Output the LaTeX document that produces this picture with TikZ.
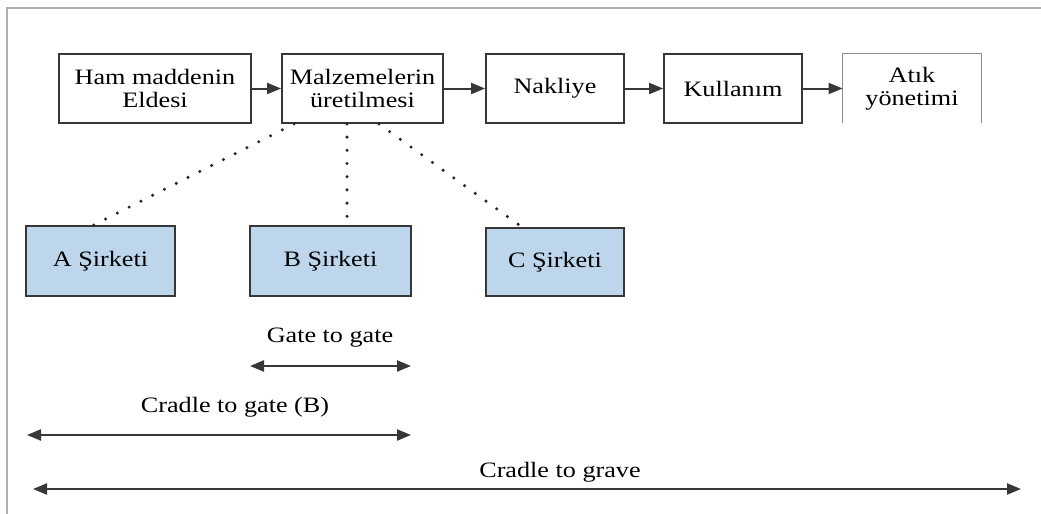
\documentclass[tikz,border=0pt]{standalone}
\usepackage{fontspec}
\setmainfont{Liberation Serif}[FakeStretch=1.19]
\usetikzlibrary{arrows.meta,calc}
\definecolor{boxblue}{RGB}{190,214,236}
\definecolor{linegray}{RGB}{55,55,55}
\definecolor{framegray}{RGB}{175,175,175}
\begin{document}
\begin{tikzpicture}[x=0.5pt,y=-0.5pt,
  every node/.style={font=\fontsize{11pt}{11.5pt}\selectfont, align=center, inner sep=0pt},
  stagebox/.style={draw=linegray, line width=0.9pt, minimum height=34.5pt},
  firmbox/.style={stagebox, fill=boxblue, minimum height=35pt},
  flow/.style={-{Triangle[length=7pt,width=5.5pt]}, draw=linegray, line width=1pt},
  span/.style={{Triangle[length=7pt,width=5.5pt]}-{Triangle[length=7pt,width=5.5pt]}, draw=linegray, line width=1.1pt},
  link/.style={draw=black!85, line width=1.7pt, line cap=round, dash pattern=on 0pt off 6.6pt}
]
\useasboundingbox (0,0) rectangle (1041,514);
% outer frame (top and left edges)
\draw[framegray, line width=1pt] (1041,8) -- (7,8) -- (7,514);

% life-cycle stages
\node[stagebox, minimum width=96pt]   (s1) at (155,88.5)   {Ham maddenin\\Eldesi};
\node[stagebox, minimum width=80.5pt] (s2) at (362.5,88.5) {Malzemelerin\\üretilmesi};
\node[stagebox, minimum width=69pt]   (s3) at (555,88.5)   {Nakliye};
\node[stagebox, minimum width=69pt]   (s4) at (733,88.5)   {Kullanım};
\node[minimum width=69pt, minimum height=34.5pt] (s5) at (912,88.5) {Atık\\yönetimi};
\draw[black!45, line width=0.5pt] (s5.south west) -- (s5.north west) -- (s5.north east) -- (s5.south east);

\draw[flow] (s1) -- (s2);
\draw[flow] (s2) -- (s3);
\draw[flow] (s3) -- (s4);
\draw[flow] (s4) -- (s5);

% companies
\node[firmbox, minimum width=74.5pt] (fa) at (100.5,261) {A Şirketi};
\node[firmbox, minimum width=80.5pt] (fb) at (330.5,261) {B Şirketi};
\node[firmbox, minimum width=69pt, minimum height=34pt] (fc) at (555,262) {C Şirketi};

\draw[link] ([xshift=6.5pt]s2.south west) -- ([xshift=-3.5pt]fa.north);
\draw[link] ([xshift=-7.75pt]s2.south) -- ([xshift=8.25pt]fb.north);
\draw[link] ([xshift=-32.5pt]s2.south east) -- ([xshift=18.5pt]fc.north west);

% system boundaries
\coordinate (g1) at (250,366);  \coordinate (g2) at (411,366);
\coordinate (c1) at (27,435);   \coordinate (c2) at (411,435);
\coordinate (v1) at (33,489);   \coordinate (v2) at (1021,489);
\node (tg) at (330,338) {Gate to gate};
\node (tc) at (235,407) {Cradle to gate (B)};
\node (tv) at (560,472) {Cradle to grave};
\draw[span] (g1) -- (g2);
\draw[span] (c1) -- (c2);
\draw[span] (v1) -- (v2);
\end{tikzpicture}
\end{document}
